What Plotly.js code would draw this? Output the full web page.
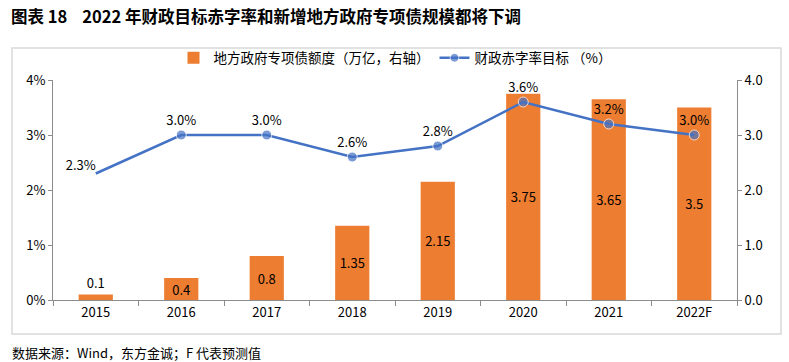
<!DOCTYPE html>
<html>
<head>
<meta charset="utf-8">
<script src="https://cdn.plot.ly/plotly-3.0.1.min.js"></script>
<style>html,body{margin:0;padding:0;background:#fff;}#chart{width:789px;height:362px;}</style>
</head>
<body>
<div id="chart"></div>
<script>
const years = ['2015','2016','2017','2018','2019','2020','2021','2022F'];
const debtQuota = [0.1, 0.4, 0.8, 1.35, 2.15, 3.75, 3.65, 3.5];
const deficitRate = [2.3, 3.0, 3.0, 2.6, 2.8, 3.6, 3.2, 3.0];
const barName = '地方政府专项债额度（万亿，右轴）';
const lineName = '财政赤字率目标 （%）';
const titleText = '图表 18&nbsp;&nbsp;&nbsp;&nbsp;2022 年财政目标赤字率和新增地方政府专项债规模都将下调';
const sourceText = '数据来源：Wind，东方金诚；F 代表预测值';

const FONT = '"Noto Sans CJK SC", "Microsoft YaHei", sans-serif';

const barTrace = {
  type: 'bar', name: barName, x: years, y: debtQuota, yaxis: 'y',
  marker: {color: '#ED7D31'}, width: 0.4,
  text: debtQuota.map(v => String(v)),
  textposition: debtQuota.map((v, i) => i === 0 ? 'outside' : 'inside'),
  insidetextanchor: 'middle', constraintext: 'none', textangle: 0, cliponaxis: false,
  textfont: {color: '#000', size: 13, family: FONT},
  hoverinfo: 'skip'
};
const lineTrace = {
  type: 'scatter', mode: 'lines+markers+text', name: lineName, x: years, y: deficitRate, yaxis: 'y2',
  line: {color: '#4472C4', width: 2.5},
  marker: {color: '#4472C4', size: deficitRate.map((v, i) => i === 0 ? 0 : 10)},
  text: deficitRate.map(v => v.toFixed(1) + '%'),
  textposition: deficitRate.map((v, i) => i === 0 ? 'top left' : 'top center'),
  textfont: {color: '#000', size: 13, family: FONT},
  cliponaxis: false, hoverinfo: 'skip'
};

const layout = {
  width: 789, height: 362,
  margin: {l: 53, r: 52, t: 80, b: 62},
  paper_bgcolor: '#fff', plot_bgcolor: 'rgba(0,0,0,0)',
  font: {family: FONT, size: 13, color: '#000'},
  showlegend: true,
  title: {text: titleText, x: 11/789, xanchor: 'left', xref: 'container', y: 1 - 17/362, yanchor: 'middle', yref: 'container',
          font: {size: 16.5, weight: 'bold', family: FONT, color: '#000'}},
  legend: {orientation: 'h', x: 0.5, xanchor: 'center', y: 1.1, yanchor: 'middle',
           font: {size: 13.5, family: FONT}, traceorder: 'normal', itemwidth: 30, bgcolor: 'rgba(0,0,0,0)'},
  xaxis: {type: 'category', range: [-0.5, 7.5], showline: true, linecolor: '#8c8c8c', linewidth: 1,
          ticks: 'outside', tickson: 'boundaries', ticklen: 5, tickcolor: '#8c8c8c', showgrid: false,
          zeroline: false, tickfont: {size: 13}},
  yaxis: {range: [0, 4], dtick: 1, tickformat: '.1f', side: 'right', showline: true,
          linecolor: '#8c8c8c', linewidth: 1, ticks: 'outside', ticklen: 4, tickcolor: '#8c8c8c',
          showgrid: false, zeroline: false, tickfont: {size: 13}},
  yaxis2: {range: [0, 4], dtick: 1, ticksuffix: '%', overlaying: 'y', side: 'left', showline: true,
           linecolor: '#8c8c8c', linewidth: 1, ticks: 'outside', ticklen: 4, tickcolor: '#8c8c8c',
           showgrid: false, zeroline: false, tickfont: {size: 13}},
  shapes: [{type: 'rect', xref: 'paper', yref: 'paper',
            x0: (12-53)/684, x1: (781-53)/684, y0: (300-334)/220, y1: (300-48)/220,
            line: {color: '#d9d9d9', width: 1.5}, fillcolor: 'rgba(0,0,0,0)', layer: 'below'}],
  annotations: [{text: sourceText, xref: 'paper', yref: 'paper', x: (10-53)/684, y: (300-352)/220,
                 xanchor: 'left', yanchor: 'middle', showarrow: false, font: {size: 13, family: FONT, color: '#000'}}]
};

Plotly.newPlot('chart', [barTrace, lineTrace], layout, {displayModeBar: false, staticPlot: true});
</script>
</body>
</html>
